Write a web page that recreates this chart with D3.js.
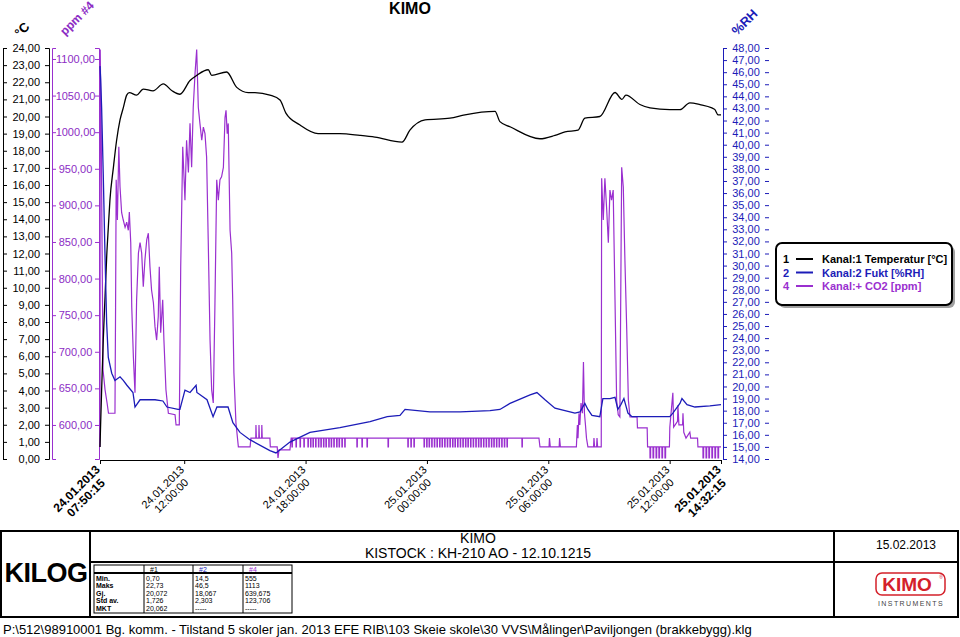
<!DOCTYPE html>
<html><head><meta charset="utf-8">
<script src="https://cdn.jsdelivr.net/npm/d3@7"></script>
<style>
body{margin:0;background:#fff}
svg{display:block}
text{font-family:"Liberation Sans",Arial,Helvetica,sans-serif}
</style>
</head><body>
<svg id="c" width="960" height="637"></svg>
<script>
// ---------- DATA ----------
const startTime = "2013-01-24 07:50:15";
const endTime = "2013-01-25 14:32:15";
const xTickTimes = ["2013-01-24 07:50:15","2013-01-24 12:00:00","2013-01-24 18:00:00","2013-01-25 00:00:00","2013-01-25 06:00:00","2013-01-25 12:00:00","2013-01-25 14:32:15"];
const tempTicks = [0,1,2,3,4,5,6,7,8,9,10,11,12,13,14,15,16,17,18,19,20,21,22,23,24];
const ppmTicks = [600,650,700,750,800,850,900,950,1000,1050,1100];
const rhTicks = [14,15,16,17,18,19,20,21,22,23,24,25,26,27,28,29,30,31,32,33,34,35,36,37,38,39,40,41,42,43,44,45,46,47,48];
const tempDomain = [0,24];
const ppmDomain = [553.5,1115];
const rhDomain = [14,48];

// [hours since start, value]
const tempData = [[0,0.7],[0.03,2.0],[0.08,4.0],[0.16,6.9],[0.25,9.5],[0.33,11.8],[0.41,13.5],[0.49,15.1],[0.66,17.0],[0.82,18.6],[0.99,19.8],[1.15,20.5],[1.32,21.25],[1.45,21.4],[1.81,21.25],[2.14,21.6],[2.62,21.5],[3.13,21.9],[3.56,21.5],[3.95,21.3],[4.45,22.1],[4.78,22.4],[5.35,22.73],[5.52,22.4],[6.26,22.6],[6.76,21.7],[7.33,21.4],[7.66,21.4],[8.40,21.25],[8.90,20.96],[9.19,20.2],[9.89,19.5],[10.78,19.0],[11.86,19.0],[12.85,18.9],[13.59,18.8],[14.93,18.5],[15.32,19.2],[16.07,19.8],[17.30,19.9],[18.04,20.1],[19.53,20.3],[19.77,19.7],[20.27,19.4],[21.75,18.7],[22.49,18.9],[22.99,19.1],[23.63,19.2],[23.97,19.9],[24.71,20.0],[25.46,21.4],[25.80,21.0],[26.00,21.25],[26.69,20.7],[27.19,20.5],[28.17,20.4],[28.67,20.4],[29.16,20.8],[29.66,20.7],[30.25,20.5],[30.40,20.4],[30.55,20.1],[30.70,20.1]];

const rhData = [[0,46.5],[0.03,45.5],[0.08,43.1],[0.16,37.6],[0.25,30.7],[0.33,25.2],[0.41,22.4],[0.58,21.1],[0.74,20.5],[0.99,20.8],[1.15,20.5],[1.33,20.1],[1.63,19.5],[1.73,18.3],[1.98,18.9],[2.72,18.9],[3.11,18.8],[3.31,18.3],[3.86,18.1],[3.95,18.1],[4.2,19.7],[4.45,19.5],[4.75,20.1],[4.79,19.5],[5.29,18.9],[5.59,17.5],[5.78,18.3],[6.33,18.3],[6.57,17.0],[6.92,16.2],[7.41,15.6],[8.40,14.7],[8.70,14.5],[9.39,15.4],[10.38,16.2],[11.86,16.6],[13.35,17.1],[14.20,17.5],[14.83,17.6],[15.08,18.1],[16.31,17.9],[17.80,17.9],[19.28,18.0],[19.77,18.1],[20.27,18.6],[21.26,19.3],[21.60,19.5],[22.0,18.9],[22.49,18.2],[23.48,17.8],[23.73,17.9],[23.97,18.6],[24.12,18.1],[24.32,17.6],[24.71,17.5],[24.86,19.0],[25.21,19.0],[25.46,19.1],[25.60,18.1],[25.75,18.5],[25.90,19.0],[26.10,17.8],[26.30,17.5],[28.17,17.5],[28.32,17.8],[28.67,18.6],[28.77,19.0],[29.02,18.5],[29.41,18.3],[30.15,18.4],[30.70,18.5]];

const co2Data = [[0,570],[0.01,1113],[0.06,1000],[0.15,675],[0.25,648],[0.35,630],[0.42,616],[0.74,616],[0.77,760],[0.80,935],[0.86,880],[0.93,980],[0.99,925],[1.07,890],[1.15,880],[1.24,870],[1.32,877],[1.40,866],[1.45,891],[1.52,849],[1.57,761],[1.65,693],[1.73,644],[1.81,771],[1.90,835],[1.98,849],[2.06,835],[2.14,789],[2.22,825],[2.31,853],[2.39,862],[2.47,816],[2.55,784],[2.64,767],[2.72,734],[2.80,716],[2.88,748],[2.93,816],[3.00,726],[3.10,771],[3.16,716],[3.26,648],[3.38,616],[3.71,614],[3.76,600],[3.92,600],[3.99,816],[4.09,980],[4.20,907],[4.28,989],[4.37,945],[4.45,1012],[4.53,952],[4.61,1034],[4.70,1081],[4.78,1113],[4.86,1034],[4.94,1012],[5.03,989],[5.11,1007],[5.19,998],[5.27,966],[5.35,853],[5.44,716],[5.52,648],[5.60,630],[5.68,761],[5.77,935],[5.85,907],[5.93,935],[6.01,939],[6.10,952],[6.18,1020],[6.23,1030],[6.29,998],[6.34,1012],[6.43,866],[6.51,835],[6.56,771],[6.62,671],[6.72,603],[6.84,570],
[7.42,570],[7.46,582],[7.70,582],[7.71,600],[7.73,582],[7.85,582],[7.86,600],[7.88,582],[7.99,582],[8.0,600],[8.02,582],[8.40,582],[8.42,570],[8.76,570],[8.80,555],[8.85,566],[9.39,566],[9.45,582],
[21.70,582],[21.75,570],[22.20,570],[22.22,582],[22.26,570],[22.70,570],[22.72,582],[22.76,570],[23.55,570],[23.60,600],[23.63,582],[23.68,616],[23.72,600],[23.78,630],[23.85,616],[23.90,686],[23.95,616],[24.00,600],[24.05,582],[24.12,570],[24.40,570],[24.42,582],[24.45,570],[24.55,570],[24.57,582],[24.60,570],[24.78,570],[24.80,937],[24.88,880],[24.96,937],[25.05,894],[25.13,849],[25.21,921],[25.29,907],[25.37,921],[25.46,771],[25.54,634],[25.62,614],[25.70,611],[25.79,952],[25.87,925],[25.95,825],[26.04,730],[26.12,634],[26.20,611],[26.55,611],[26.57,596],[27.05,596],[27.07,570],[28.15,570],[28.17,597],[28.32,644],[28.36,597],[28.55,605],[28.57,627],[28.62,600],[28.80,600],[28.82,616],[28.86,590],[28.97,582],[29.16,590],[29.20,582],[29.54,582],[29.56,570],[30.70,570]];

// short dips of the CO2 trace (hours)
const co2DipsHigh = [9.49,9.69,9.89,10.08,10.28,10.41,10.53,10.66,10.80,10.92,11.05,11.17,11.31,11.43,11.56,11.70,11.82,11.96,12.10,12.70,12.95,13.20,14.24,15.22,15.37,15.52,16.02,16.15,16.27,16.40,16.53,16.66,16.79,16.91,17.04,17.17,17.30,17.43,17.55,17.68,17.81,17.94,18.07,18.19,18.32,18.45,18.58,18.71,18.83,18.96,19.09,19.22,19.35,19.47,19.60,19.73,19.86,19.99,20.12,20.86];
const co2DipsLow = [27.19,27.34,27.49,27.63,27.78,27.93,29.81,29.96,30.10,30.25,30.40,30.55];

const legendItems = [
  {num:"1", label:"Kanal:1 Temperatur [°C]", color:"#000000"},
  {num:"2", label:"Kanal:2 Fukt [%RH]", color:"#1c1cb8"},
  {num:"4", label:"Kanal:+ CO2 [ppm]", color:"#9a2fcf"}
];
const statRows = ["Min.","Maks","Gj.","Std av.","MKT"];
const statHeaders = ["#1","#2","#4"];
const stat1 = ["0,70","22,73","20,072","1,726","20,062"];
const stat2 = ["14,5","46,5","18,067","2,303","-----"];
const stat4 = ["555","1113","639,675","123,706","-----"];
const footerText = "P:\\512\\98910001 Bg. komm. - Tilstand 5 skoler jan.  2013 EFE RIB\\103 Skeie skole\\30 VVS\\Målinger\\Paviljongen (brakkebygg).klg";

// ---------- DRAW ----------
const BLACK="#000", BLUE="#1c1cb8", PURPLE="#9a2fcf", PTEXT="#8c2cc4";
const svg = d3.select("#c");
const parse = d3.timeParse("%Y-%m-%d %H:%M:%S");
const t0 = parse(startTime), t1 = parse(endTime);
const toDate = h => new Date(t0.getTime() + h*3600000);
const fmt = v => d3.format(".2f")(v).replace(".", ",");

const x = d3.scaleTime().domain([t0,t1]).range([100,721]);
const yT = d3.scaleLinear().domain(tempDomain).range([459,48]);
const yP = d3.scaleLinear().domain(ppmDomain).range([459,48]);
const yH = d3.scaleLinear().domain(rhDomain).range([459,48]);

function withDips(series, dips, base, low, w){
  const pts = series.slice();
  dips.forEach(h => { pts.push([h-0.003, base],[h, low],[h+w, low],[h+w+0.003, base]); });
  return pts.sort((a,b)=>a[0]-b[0]);
}
const co2Full = withDips(withDips(co2Data, co2DipsHigh, 582, 570, 0.02), co2DipsLow, 570, 555, 0.03);

// title
svg.append("text").attr("x",410).attr("y",14).attr("text-anchor","middle")
  .attr("font-size",16).attr("font-weight","bold").text("KIMO");

// axis titles
function rotTitle(tx,ty,txt,col,fs){
  svg.append("text").attr("transform",`translate(${tx},${ty}) rotate(-45)`)
    .attr("font-size",fs).attr("font-weight","bold").attr("fill",col).text(txt);
}
rotTitle(20,38,"°C",BLACK,13);
rotTitle(65,36,"ppm #4",PTEXT,12);
rotTitle(737,36,"%RH",BLUE,13);

// °C axis
const gT = svg.append("g").attr("transform","translate(49,0)")
  .call(d3.axisLeft(yT).tickValues(tempTicks).tickSize(4).tickPadding(5).tickFormat(fmt));
const gT2 = svg.append("g").attr("transform","translate(3,0)")
  .call(d3.axisRight(yT).tickValues(tempTicks).tickSize(4).tickFormat(""));
[gT,gT2].forEach(g=>{g.attr("color",BLACK); g.selectAll("text").attr("font-size",11).attr("font-family",null);});

// ppm axis
const gP1 = svg.append("g").attr("transform","translate(52,0)")
  .call(d3.axisRight(yP).tickValues(ppmTicks).tickSize(4).tickFormat(""));
const gP2 = svg.append("g").attr("transform","translate(99,0)")
  .call(d3.axisLeft(yP).tickValues(ppmTicks).tickSize(4).tickFormat(fmt));
[gP1,gP2].forEach(g=>g.attr("color",PURPLE));
gP2.selectAll("text").attr("font-size",11).attr("font-family",null).attr("fill",PTEXT)
  .attr("text-anchor","middle").attr("x",-23.5);

// %RH axis
const gH1 = svg.append("g").attr("transform","translate(723,0)")
  .call(d3.axisRight(yH).tickValues(rhTicks).tickSize(4).tickFormat(fmt));
const gH2 = svg.append("g").attr("transform","translate(769,0)")
  .call(d3.axisLeft(yH).tickValues(rhTicks).tickSize(4).tickFormat(""));
gH2.select(".domain").remove();
[gH1,gH2].forEach(g=>g.attr("color",BLUE));
gH1.selectAll("text").attr("font-size",11).attr("font-family",null)
  .attr("text-anchor","middle").attr("x",23);

// x axis
const xTicks = xTickTimes.map(parse);
const gX = svg.append("g").attr("transform","translate(0,460)")
  .call(d3.axisBottom(x).tickValues(xTicks).tickSize(4).tickSizeOuter(0).tickFormat(""));
gX.attr("color",BLACK);
const fD = d3.timeFormat("%d.%m.%Y"), fH = d3.timeFormat("%H:%M:%S");
xTicks.forEach((t,i)=>{
  const bold = (i===0 || i===xTicks.length-1);
  const g = svg.append("g").attr("transform",`translate(${x(t)},464) rotate(-45)`);
  const fs = bold?12:11;
  const l1 = g.append("text").attr("x",-4).attr("y",5).attr("text-anchor","end")
    .attr("font-size",fs).attr("font-weight",bold?"bold":"normal").text(fD(t));
  const w1 = l1.node().getComputedTextLength();
  g.append("text").attr("x",-4-w1/2).attr("y",5+fs+1).attr("text-anchor","middle")
    .attr("font-size",fs).attr("font-weight",bold?"bold":"normal").text(fH(t));
});

// series
const line = (ys) => d3.line().x(d=>x(toDate(d[0]))).y(d=>ys(d[1]));
svg.append("path").datum(co2Full).attr("d",line(yP)).attr("fill","none")
  .attr("stroke",PURPLE).attr("stroke-width",1.2);
svg.append("path").datum(tempData).attr("d",line(yT).curve(d3.curveMonotoneX)).attr("fill","none")
  .attr("stroke",BLACK).attr("stroke-width",1.3);
svg.append("path").datum(rhData).attr("d",line(yH)).attr("fill","none")
  .attr("stroke",BLUE).attr("stroke-width",1.3);

// legend
svg.append("rect").attr("x",779).attr("y",246).attr("width",176).attr("height",62).attr("rx",6)
  .attr("fill","#a0a0a0");
svg.append("rect").attr("x",776).attr("y",243).attr("width",176).attr("height",62).attr("rx",6)
  .attr("fill","#fff").attr("stroke","#000").attr("stroke-width",2);
legendItems.forEach((d,i)=>{
  const yy = 263 + i*13.5;
  svg.append("text").attr("x",783).attr("y",yy).attr("font-size",11).attr("font-weight","bold")
    .attr("fill",d.color).text(d.num);
  svg.append("line").attr("x1",796).attr("x2",813).attr("y1",yy-4).attr("y2",yy-4)
    .attr("stroke",d.color).attr("stroke-width",2);
  svg.append("text").attr("x",822).attr("y",yy).attr("font-size",11).attr("font-weight","bold")
    .attr("fill",d.color).text(d.label);
});

// bottom panel
const P = svg.append("g");
P.append("rect").attr("x",1).attr("y",531).attr("width",957).attr("height",86)
  .attr("fill","none").attr("stroke","#000").attr("stroke-width",2);
P.append("line").attr("x1",90).attr("x2",90).attr("y1",531).attr("y2",617).attr("stroke","#000").attr("stroke-width",2);
P.append("line").attr("x1",834).attr("x2",834).attr("y1",531).attr("y2",617).attr("stroke","#000").attr("stroke-width",2);
P.append("line").attr("x1",90).attr("x2",958).attr("y1",562).attr("y2",562).attr("stroke","#000").attr("stroke-width",2);
P.append("text").attr("x",46).attr("y",582).attr("text-anchor","middle").attr("font-size",27)
  .attr("font-weight","bold").attr("letter-spacing",-0.5).text("KILOG");
P.append("text").attr("x",478).attr("y",543).attr("text-anchor","middle").attr("font-size",14).text("KIMO");
P.append("text").attr("x",478).attr("y",558).attr("text-anchor","middle").attr("font-size",14).text("KISTOCK : KH-210 AO - 12.10.1215");
P.append("text").attr("x",906).attr("y",549).attr("text-anchor","middle").attr("font-size",12).text("15.02.2013");
// KIMO logo
P.append("rect").attr("x",876).attr("y",573).attr("width",69).attr("height",22).attr("rx",6)
  .attr("fill","#fff").attr("stroke","#d4202a").attr("stroke-width",1.5);
P.append("text").attr("x",907).attr("y",591).attr("text-anchor","middle").attr("font-size",19)
  .attr("font-weight","bold").attr("fill","#d4202a").text("KIMO");
P.append("text").attr("x",941).attr("y",579).attr("text-anchor","middle").attr("font-size",5).attr("fill","#d4202a").text("®");
P.append("text").attr("x",911).attr("y",606).attr("text-anchor","middle").attr("font-size",7)
  .attr("letter-spacing",1.4).attr("fill","#444").text("INSTRUMENTS");

// stats table
const colX = [94,144,193,243,292];
const T = P.append("g");
T.append("rect").attr("x",94).attr("y",565).attr("width",198).attr("height",48)
  .attr("fill","none").attr("stroke","#000").attr("stroke-width",1);
T.append("line").attr("x1",94).attr("x2",292).attr("y1",573).attr("y2",573).attr("stroke","#000").attr("stroke-width",2);
colX.slice(1,4).forEach(cx=>T.append("line").attr("x1",cx).attr("x2",cx).attr("y1",565).attr("y2",613).attr("stroke","#000").attr("stroke-width",1));
const hdrCol = [BLACK,BLUE,PURPLE];
statHeaders.forEach((h,i)=>T.append("text").attr("x",colX[i+1]+6).attr("y",571.5).attr("font-size",7)
  .attr("fill",hdrCol[i]).text(h));
const rowY = [580.5,588,595.5,603,610.5];
statRows.forEach((r,i)=>{
  T.append("text").attr("x",96).attr("y",rowY[i]).attr("font-size",7).attr("font-weight","bold").text(r);
  [stat1,stat2,stat4].forEach((arr,j)=>T.append("text").attr("x",colX[j+1]+2).attr("y",rowY[i]).attr("font-size",7).text(arr[i]));
});

// footer
svg.append("text").attr("x",3).attr("y",634).attr("font-size",13).text(footerText);
</script>
</body></html>
